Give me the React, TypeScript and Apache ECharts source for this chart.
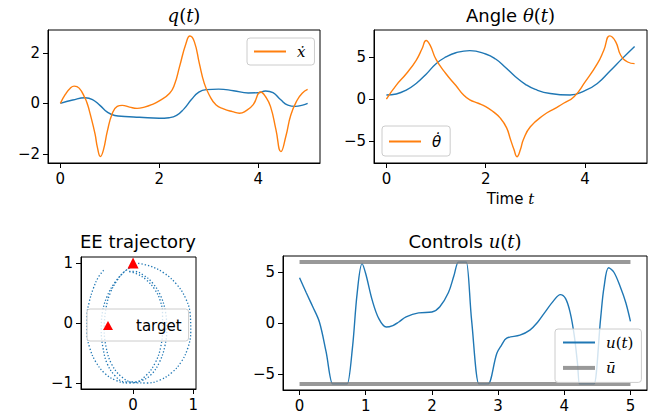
import React, { useEffect, useRef } from "react";
import * as echarts from "echarts";

const BLUE = "#1f77b4";
const ORANGE = "#ff7f0e";

// ---- q(t) panel ----
const tXpos = [0, 0.25, 0.5, 0.65, 0.8, 0.95, 1.1, 1.3, 1.6, 2.0, 2.2, 2.35, 2.5, 2.65, 2.8, 2.95, 3.2, 3.5, 3.8, 4.0, 4.15, 4.3, 4.45, 4.6, 4.75, 4.9, 5.0];
const xPos = [0, 0.13, 0.22, 0.15, -0.08, -0.35, -0.48, -0.52, -0.55, -0.59, -0.57, -0.48, -0.22, 0.15, 0.44, 0.54, 0.56, 0.5, 0.41, 0.42, 0.49, 0.42, 0.15, -0.07, -0.12, -0.07, 0];
const tXvel = [0, 0.1, 0.2, 0.28, 0.38, 0.5, 0.55, 0.6, 0.7, 0.75, 0.81, 0.87, 0.95, 1.05, 1.15, 1.25, 1.4, 1.55, 1.7, 1.85, 2.0, 2.21, 2.31, 2.41, 2.54, 2.62, 2.71, 2.81, 2.91, 3.01, 3.15, 3.3, 3.48, 3.62, 3.75, 3.9, 4.05, 4.15, 4.25, 4.36, 4.46, 4.56, 4.66, 4.79, 4.89, 5.0];
const xVel = [0, 0.35, 0.6, 0.68, 0.6, 0.2, -0.05, -0.4, -1.2, -1.75, -2.1, -1.85, -1.1, -0.4, -0.12, -0.08, -0.15, -0.2, -0.15, -0.05, 0.1, 0.4, 0.75, 1.45, 2.37, 2.66, 2.43, 1.58, 0.79, 0.33, -0.07, -0.22, -0.33, -0.39, -0.3, -0.05, 0.45, 0.26, -0.13, -1.05, -1.91, -1.3, -0.46, 0.13, 0.4, 0.55];

// ---- Angle panel ----
const tTheta = [0, 0.2, 0.4, 0.6, 0.8, 1.0, 1.2, 1.4, 1.68, 2.0, 2.2, 2.4, 2.6, 2.8, 3.0, 3.3, 3.7, 4.0, 4.25, 4.5, 4.75, 5.0];
const theta = [0.47, 0.6, 1.06, 1.85, 2.95, 4.2, 5.0, 5.5, 5.75, 5.35, 4.75, 3.75, 2.65, 1.75, 1.14, 0.65, 0.47, 1.0, 1.85, 3.3, 4.8, 6.25];
const tThetaDot = [0, 0.2, 0.4, 0.6, 0.72, 0.8, 0.88, 1.0, 1.2, 1.4, 1.55, 1.68, 1.85, 2.0, 2.15, 2.3, 2.42, 2.5, 2.57, 2.63, 2.7, 2.76, 2.9, 3.17, 3.4, 3.57, 3.78, 4.0, 4.25, 4.38, 4.5, 4.62, 4.72, 4.86, 5.0];
const thetaDot = [0, 1.65, 3.0, 4.6, 6.0, 6.95, 6.4, 4.7, 3.0, 1.6, 0.5, -0.1, -0.5, -0.9, -1.5, -2.3, -3.4, -4.8, -6.0, -6.85, -6.0, -4.8, -3.3, -1.9, -1.1, -0.5, 0.28, 2.0, 4.2, 5.8, 7.5, 6.8, 5.2, 4.4, 4.2];

// ---- EE trajectory ----
const eeX = [-0.49, -0.58, -0.66, -0.73, -0.77, -0.77, -0.72, -0.62, -0.47, -0.28, -0.08, 0.12, 0.3, 0.44, 0.53, 0.56, 0.54, 0.46, 0.33, 0.17, 0.02, -0.08,
  0.06, 0.22, 0.36, 0.45, 0.49, 0.49, 0.46, 0.37, 0.22, 0.04, -0.14, -0.3, -0.43, -0.5, -0.53, -0.51, -0.43, -0.3, -0.14, -0.02,
  -0.14, -0.26, -0.38, -0.45, -0.48, -0.45, -0.36, -0.2, 0.0, 0.23, 0.45, 0.64, 0.8, 0.91, 0.96, 0.95, 0.87, 0.72, 0.52, 0.28, 0.05];
const eeY = [0.88, 0.76, 0.58, 0.35, 0.1, -0.15, -0.42, -0.65, -0.84, -0.96, -1.0, -0.97, -0.86, -0.65, -0.38, -0.1, 0.18, 0.45, 0.66, 0.8, 0.86, 0.86,
  0.82, 0.72, 0.56, 0.38, 0.15, -0.1, -0.4, -0.66, -0.87, -0.98, -0.98, -0.88, -0.68, -0.42, -0.12, 0.18, 0.45, 0.68, 0.86, 0.94,
  0.86, 0.72, 0.5, 0.25, -0.1, -0.4, -0.68, -0.89, -0.99, -1.0, -0.95, -0.83, -0.65, -0.42, -0.15, 0.15, 0.42, 0.65, 0.83, 0.95, 1.0];
const targetX = [0];
const targetY = [1];

// ---- Controls ----
const tU = [0, 0.1, 0.2, 0.3, 0.4, 0.5, 0.52, 0.7, 0.72, 0.8, 0.87, 0.945, 1.0, 1.1, 1.2, 1.31, 1.41, 1.5, 1.61, 1.8, 2.0, 2.12, 2.25, 2.33, 2.4, 2.42, 2.5, 2.52, 2.6, 2.71, 2.73, 2.83, 2.85, 2.98, 3.05, 3.13, 3.33, 3.48, 3.6, 3.69, 3.84, 3.94, 4.02, 4.09, 4.15, 4.2, 4.23, 4.25, 4.43, 4.45, 4.55, 4.6, 4.67, 4.75, 4.85, 4.93, 5.0];
const uVals = [4.46, 3.0, 1.6, 0.1, -2.8, -6, -6, -6, -6, -2.4, 2.9, 5.85, 4.85, 2.2, 0.4, -0.4, -0.25, 0.1, 0.6, 1.0, 1.08, 1.6, 3.0, 4.6, 6, 6, 6, 6, 0.26, -6, -6, -6, -6, -3.0, -2.2, -1.5, -1.2, -0.7, 0.1, 0.9, 2.2, 2.8, 2.4, 1.0, -1.2, -4, -6, -6, -6, -6, 0.5, 3.5, 5.44, 5.0, 3.5, 2.0, 0.16];
const uBarT = [0, 5];
const uBarHi = [6, 6];
const uBarLo = [-6, -6];

const pairs = (xs: number[], ys: number[]) => xs.map((x, i) => [x, ys[i]]);
const fmt = (v: number) => String(v).replace("-", "\u2212");

const mathRich = (size: number) => ({
  m: { fontFamily: "DejaVu Serif", fontStyle: "italic", fontSize: size, color: "#000" },
  n: { fontFamily: "DejaVu Serif", fontSize: size, color: "#000" },
  s: { fontFamily: "DejaVu Sans", fontSize: size, color: "#000" },
  k: { fontFamily: "DejaVu Sans", fontStyle: "italic", fontSize: size, color: "#000" },
});

function axis(gridIndex: number, min: number, max: number, ticks: number[]) {
  return {
    type: "value",
    gridIndex,
    min,
    max,
    axisLine: { show: true, onZero: false, lineStyle: { color: "#000", width: 1 } },
    splitLine: { show: false },
    axisTick: { show: true, length: 5, lineStyle: { color: "#000", width: 1 }, customValues: ticks },
    axisLabel: { show: true, customValues: ticks, color: "#000", fontSize: 15, fontFamily: "DejaVu Sans", margin: 8, formatter: fmt },
  };
}

const legendBase = {
  backgroundColor: "rgba(255,255,255,0.8)",
  borderColor: "#cccccc",
  borderWidth: 1,
  borderRadius: 3,
  itemWidth: 32,
  itemHeight: 14,
  itemStyle: { opacity: 0 },
  textStyle: { fontSize: 15, fontFamily: "DejaVu Sans", color: "#000", padding: [0, 0, 0, 6], rich: mathRich(15) },
};

const legendNames: Record<string, string> = {
  xdot: "{m|x\u0307}",
  thetadot: "{k|\u03b8\u0307}",
  target: "{s|target}",
  u: "{m|u}{n|(}{m|t}{n|)}",
  ubar: "{m|u\u0304}",
};

export default function App() {
  const ref = useRef<HTMLDivElement>(null);
  useEffect(() => {
    if (!ref.current) return;
    const chart = echarts.init(ref.current, null, { renderer: "svg" });
    const gridStyle = { show: true, borderColor: "#000", borderWidth: 1, backgroundColor: "transparent", containLabel: false };
    const line = (name: string, x: number, data: any, color: string, extra: any = {}) => ({
      type: "line",
      name,
      xAxisIndex: x,
      yAxisIndex: x,
      data,
      symbol: "none",
      showSymbol: false,
      smooth: 0.5,
      lineStyle: { color, width: 1.4 },
      itemStyle: { color },
      ...extra,
    });
    const title = (x: number, y: number, text: string, size: number) => ({
      type: "text",
      x,
      y,
      style: { text, rich: mathRich(size), align: "center", verticalAlign: "middle", fill: "#000" },
    });
    chart.setOption({
      animation: false,
      grid: [
        { left: 48, top: 30, width: 272, height: 133, ...gridStyle },
        { left: 374, top: 30, width: 273, height: 133, ...gridStyle },
        { left: 81, top: 257, width: 115, height: 132, ...gridStyle },
        { left: 283, top: 256, width: 364, height: 134, ...gridStyle },
      ],
      xAxis: [
        axis(0, -0.25, 5.25, [0, 2, 4]),
        axis(1, -0.25, 5.25, [0, 2, 4]),
        axis(2, -0.867, 1.047, [0, 1]),
        axis(3, -0.25, 5.25, [0, 1, 2, 3, 4, 5]),
      ],
      yAxis: [
        axis(0, -2.36, 2.9, [-2, 0, 2]),
        axis(1, -7.6, 8.2, [-5, 0, 5]),
        axis(2, -1.1, 1.1, [-1, 0, 1]),
        axis(3, -6.6, 6.6, [-5, 0, 5]),
      ],
      legend: [
        { ...legendBase, data: ["xdot"], left: 247, top: 38, padding: [6, 9, 6, 6], formatter: (n: string) => legendNames[n] },
        { ...legendBase, data: ["thetadot"], left: 382, top: 126, padding: [8, 9, 7, 6], formatter: (n: string) => legendNames[n] },
        {
          ...legendBase,
          data: [{ name: "target", icon: "triangle" }],
          itemStyle: { color: "#ff0000", opacity: 1 },
          itemWidth: 10,
          itemHeight: 9,
          left: 87,
          top: 309,
          padding: [9, 7, 8, 16],
          textStyle: { ...legendBase.textStyle, padding: [0, 0, 0, 18] },
          formatter: (n: string) => legendNames[n],
        },
        {
          ...legendBase,
          data: ["u", { name: "ubar", lineStyle: { width: 4, color: "#808080", opacity: 0.8 } }],
          orient: "vertical",
          itemGap: 10.4,
          left: 555,
          top: 329,
          padding: [6, 8, 7, 6],
          formatter: (n: string) => legendNames[n],
        },
      ],
      graphic: [
        title(184, 15, "{m|q}{n|(}{m|t}{n|)}", 18),
        title(510.5, 15, "{s|Angle }{m|\u03b8}{n|(}{m|t}{n|)}", 18),
        title(138, 241, "{s|EE trajectory}", 18),
        title(465, 241, "{s|Controls }{m|u}{n|(}{m|t}{n|)}", 18),
        title(510.5, 199, "{s|Time }{m|t}", 15),
      ],
      series: [
        line("x", 0, pairs(tXpos, xPos), BLUE),
        line("xdot", 0, pairs(tXvel, xVel), ORANGE),
        line("theta", 1, pairs(tTheta, theta), BLUE),
        line("thetadot", 1, pairs(tThetaDot, thetaDot), ORANGE),
        {
          type: "line",
          name: "ee",
          xAxisIndex: 2,
          yAxisIndex: 2,
          data: pairs(eeX, eeY),
          symbol: "none",
          smooth: 0.4,
          lineStyle: { color: BLUE, width: 1.3, type: [1.3, 2] },
        },
        {
          type: "scatter",
          name: "target",
          xAxisIndex: 2,
          yAxisIndex: 2,
          data: pairs(targetX, targetY),
          symbol: "triangle",
          symbolSize: 11,
          itemStyle: { color: "#ff0000", opacity: 1 },
          z: 5,
        },
        line("u", 3, pairs(tU, uVals), BLUE, { smooth: 0.35 }),
        line("ubar", 3, pairs(uBarT, uBarHi), "#808080", { smooth: false, lineStyle: { color: "#808080", width: 4, opacity: 0.8 } }),
        line("ubar", 3, pairs(uBarT, uBarLo), "#808080", { smooth: false, lineStyle: { color: "#808080", width: 4, opacity: 0.8 } }),
      ],
    });
    return () => chart.dispose();
  }, []);
  return <div ref={ref} style={{ position: "absolute", left: 0, top: 0, width: 657, height: 420, background: "#fff" }} />;
}
